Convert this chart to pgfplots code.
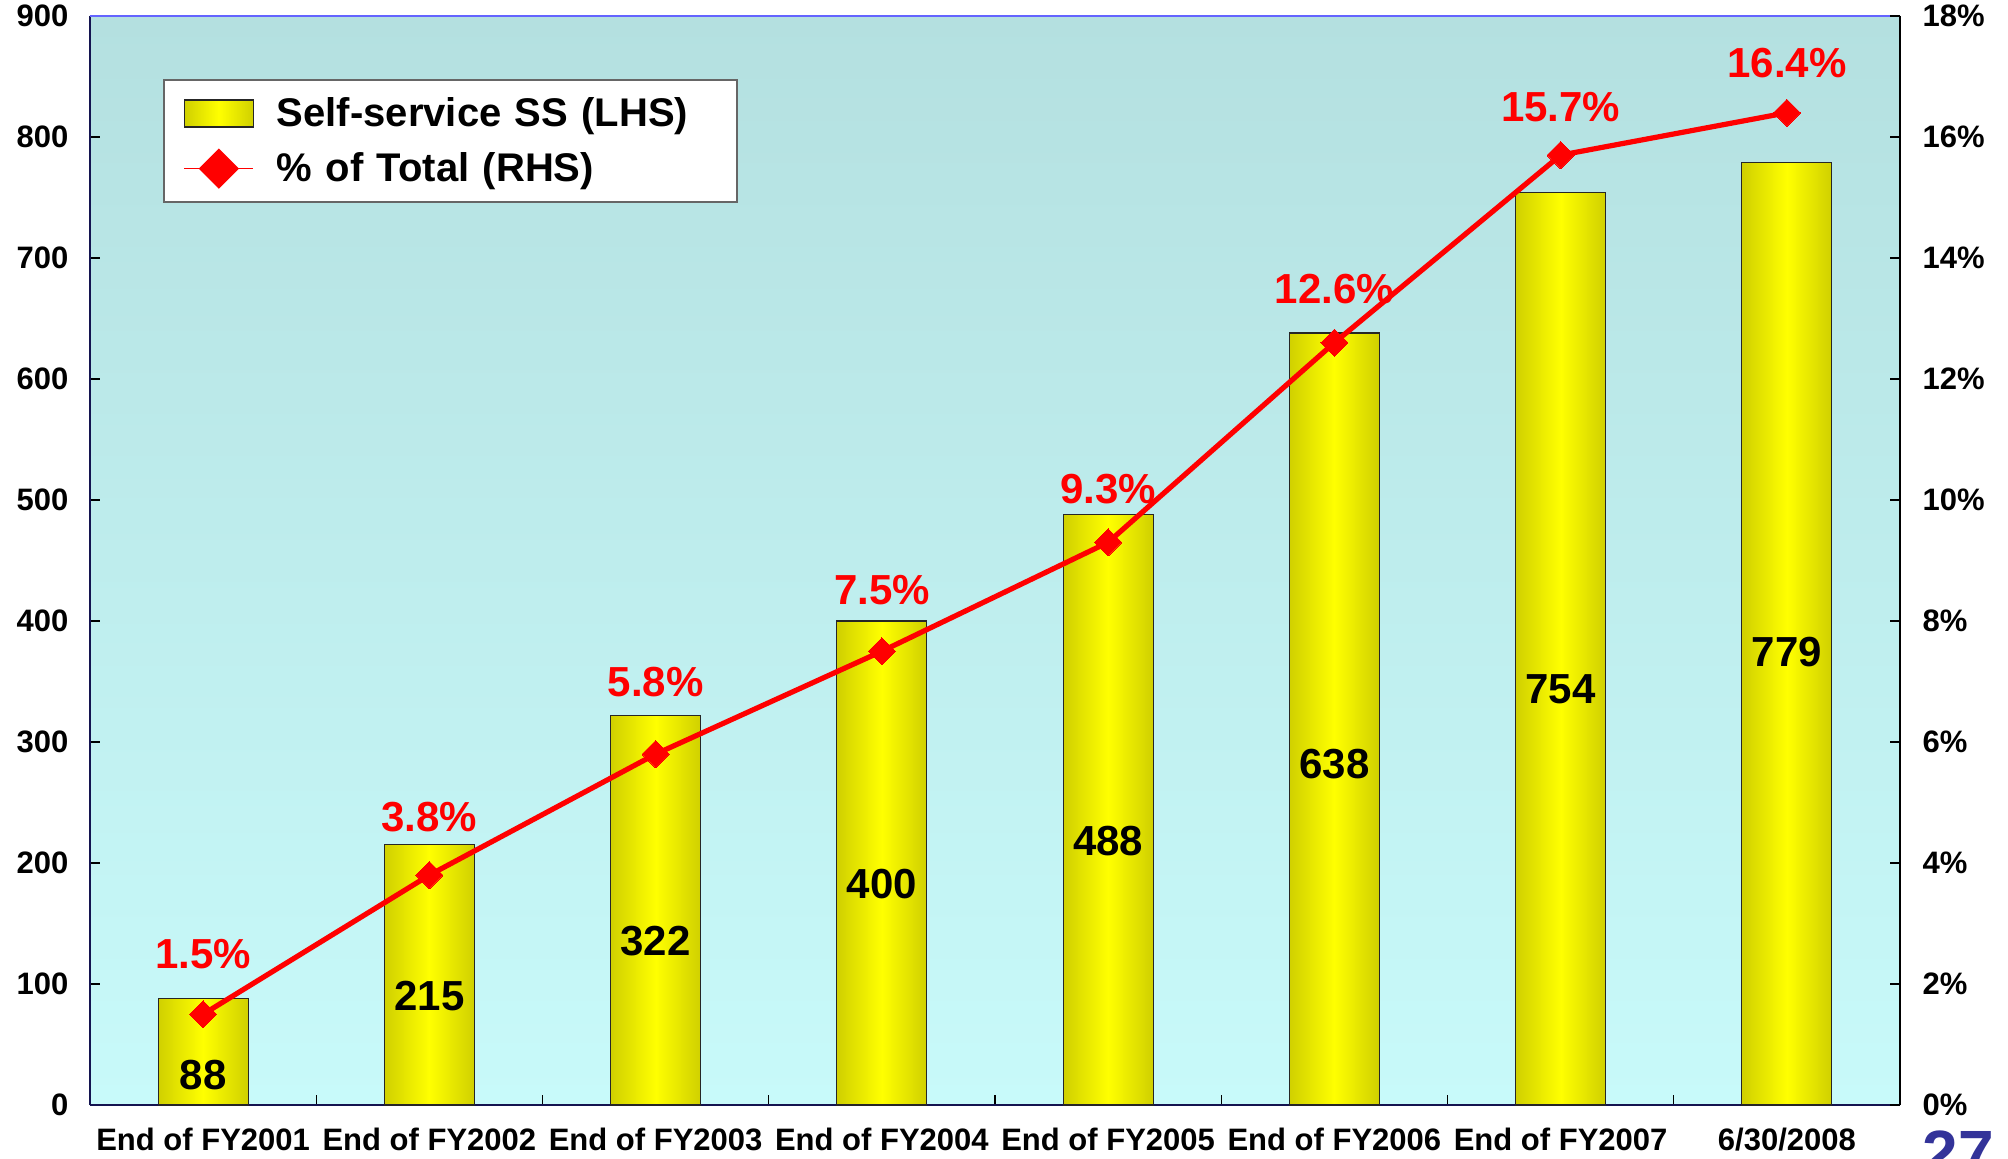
\documentclass[border=0pt]{standalone}
\usepackage{pgfplots}
\pgfplotsset{compat=1.18}
\usepackage{fontspec}
\setmainfont{Liberation Sans}
\definecolor{bgtop}{RGB}{180,224,224}
\definecolor{bgbot}{RGB}{200,250,250}
\definecolor{bardark}{RGB}{208,208,0}
\definecolor{topline}{RGB}{100,100,255}
\definecolor{axnavy}{RGB}{20,20,80}
\definecolor{pagenum}{RGB}{51,51,153}
\pgfplotsset{mybar/.style={ybar, bar width=45pt, bar shift=0pt, draw=black!85, line width=0.6pt, left color=bardark, right color=bardark, middle color=yellow}}

\begin{document}
\begin{tikzpicture}
\begin{axis}[
  at={(45pt,-552.5pt)}, anchor=south west,
  scale only axis, width=905pt, height=544.5pt,
  xmin=-0.5, xmax=7.5, ymin=0, ymax=900,
  axis x line*=bottom, axis y line*=left,
  axis line style={-, axnavy, line width=0.8pt},
  axis background/.style={top color=bgtop, bottom color=bgbot},
  xtick={0,...,7},
  xticklabels={End of FY2001, End of FY2002, End of FY2003, End of FY2004, End of FY2005, End of FY2006, End of FY2007, 6/30/2008},
  minor xtick={0.5,1.5,...,6.5},
  major x tick style={draw=none},
  minor x tick style={black, line width=0.6pt},
  minor tick length=5pt,
  ytick={0,100,...,900},
  y tick style={black, line width=0.6pt},
  major tick length=5pt,
  tick align=inside,
  /pgf/number format/assume math mode=true,
  /pgf/number format/1000 sep={},
  tick label style={font=\fontsize{15.5}{18}\selectfont\bfseries},
  yticklabel style={xshift=-7.3pt},
  xticklabel style={yshift=-8pt},
  clip=false,
  after end axis/.code={\draw[topline, line width=0.8pt] (rel axis cs:0,1) -- (rel axis cs:1,1);},
]
\addplot[mybar] coordinates {(0,88)};
\addplot[mybar] coordinates {(1,215)};
\addplot[mybar] coordinates {(2,322)};
\addplot[mybar] coordinates {(3,400)};
\addplot[mybar] coordinates {(4,488)};
\addplot[mybar] coordinates {(5,638)};
\addplot[mybar] coordinates {(6,754)};
\addplot[mybar] coordinates {(7,779)};
\addplot[draw=none, mark=none, nodes near coords, point meta=explicit symbolic,
  every node near coord/.append style={anchor=center, font=\fontsize{21}{24}\selectfont\bfseries, text=black}]
  table[meta=lab] {
x y lab
0 24.4 88
1 90 215
2 135.5 322
3 183 400
4 218 488
5 282 638
6 344 754
7 374 779
};
\end{axis}

\begin{axis}[
  at={(45pt,-552.5pt)}, anchor=south west,
  scale only axis, width=905pt, height=544.5pt,
  xmin=-0.5, xmax=7.5, ymin=0, ymax=18,
  axis x line=none, axis y line*=right,
  axis line style={-, black, line width=0.8pt},
  ytick={0,2,...,18},
  yticklabel={\pgfmathprintnumber{\tick}\%},
  tick align=inside, major tick length=5pt,
  y tick style={black, line width=0.6pt},
  /pgf/number format/assume math mode=true,
  tick label style={font=\fontsize{15.5}{18}\selectfont\bfseries},
  yticklabel style={xshift=7.8pt},
  clip=false,
  legend cell align=left,
  legend style={at={(0.0403,0.9421)}, anchor=north west, draw=black!60, line width=0.8pt, fill=white,
    font=\fontsize{20}{24}\selectfont\bfseries, inner xsep=10pt, inner ysep=3pt,
    row sep=0pt, column sep=6.5pt,
    nodes={inner ysep=5.8pt, inner xsep=5pt, text width=215pt}},
]
\addlegendimage{legend image code/.code={\draw[draw=black!85, line width=0.6pt, left color=bardark, right color=bardark, middle color=yellow] (0pt,-6.75pt) rectangle (34.5pt,6.75pt);}}
\addlegendentry{Self-service SS (LHS)}
\addplot[red, line width=2.6pt, mark=square*, mark size=4.8pt, mark options={rotate=45, solid, line width=0pt},
  legend image code/.code={\draw[red, line width=0.6pt] (0pt,0pt) -- (34.5pt,0pt); \fill[red] (17.25pt,8.25pt) -- (25.5pt,0pt) -- (17.25pt,-8.25pt) -- (9pt,0pt) -- cycle;}]
  coordinates {(0,1.5) (1,3.8) (2,5.8) (3,7.5) (4,9.3) (5,12.6) (6,15.7) (7,16.4)};
\addlegendentry{\% of Total (RHS)}
\addplot[forget plot, draw=none, mark=none, nodes near coords, point meta=explicit symbolic,
  every node near coord/.append style={anchor=center, font=\fontsize{21}{24}\selectfont\bfseries, text=red}]
  table[meta=lab] {
x y lab
0 2.50 1.5\%
1 4.76 3.8\%
2 6.99 5.8\%
3 8.51 7.5\%
4 10.18 9.3\%
5 13.49 12.6\%
6 16.49 15.7\%
7 17.22 16.4\%
};
\end{axis}

\node[anchor=north west, inner sep=0pt, text=pagenum, font=\fontsize{32}{36}\selectfont\bfseries] at (961pt,-565pt) {27};

\pgfresetboundingbox
\useasboundingbox (0pt,0pt) rectangle (1004pt,-579.5pt);
\end{tikzpicture}
\end{document}
